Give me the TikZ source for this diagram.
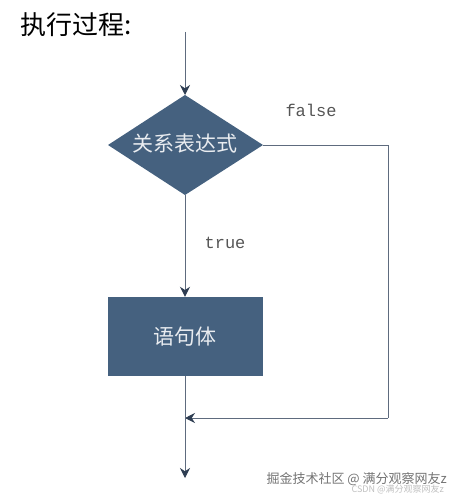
\documentclass[tikz,border=0pt]{standalone}
\usepackage{fontspec}
\setmainfont{Liberation Sans}
\newfontfamily\cjk{Noto Sans CJK SC}
\newfontfamily\cjklight{Noto Sans CJK SC Light}
\newfontfamily\monofnt{Liberation Mono}
\usetikzlibrary{arrows.meta}
\definecolor{boxfill}{HTML}{45617F}
\definecolor{linecol}{HTML}{5E6B7E}
\definecolor{tipcol}{HTML}{2E3D52}
\definecolor{lblcol}{HTML}{555555}
\tikzset{
  x=1pt,y=-1pt,
  flow/.style={draw=linecol,line width=1pt,-{Stealth[length=10pt,width=10pt,fill=tipcol,color=tipcol]}},
  plain/.style={draw=linecol,line width=1pt},
  process/.style={fill=boxfill,minimum width=155pt,minimum height=79pt,inner sep=0pt},
  boxtext/.style={text=white!88!boxfill,font=\cjk\fontsize{21}{24}\selectfont},
  lbl/.style={text=lblcol,font=\monofnt\fontsize{17}{20}\selectfont},
}
\begin{document}
\begin{tikzpicture}
\useasboundingbox (0,0) rectangle (453,500);
\node[anchor=west,font=\cjk\fontsize{26}{30}\selectfont] (title) at (17,25) {执行过程:};
\coordinate (start) at (183,32);
\path[fill=boxfill] (108,145) -- (185,95) -- (263,145) -- (185,195) -- cycle;
\node[inner sep=0pt,minimum width=155pt,minimum height=100pt] (cond) at (185,145) {};
\node[boxtext] at (185,144) {关系表达式};
\node[process,boxtext] (body) at (185,336.5) {语句体};
\coordinate (rt) at (388,145);
\coordinate (rb) at (388,418);
\coordinate (join) at (185,418);
\coordinate (endp) at (185,478);
\coordinate (ctop) at (185,95);
\coordinate (cbot) at (185,195);
\coordinate (cright) at (263,145);
\draw[flow] (start -| ctop) -- (ctop);
\draw[flow] (cbot) -- (body.north);
\draw[plain] (cright) -- (rt) -- (rb);
\draw[flow] (rb) -- (join);
\draw[flow] (body.south) -- (endp);
\node[lbl] (f) at (311,110) {false};
\node[lbl] (t) at (225,243) {true};
\node[anchor=west,text=black!55,font=\cjk\fontsize{13}{15}\selectfont] (wm1) at (263,479) {掘金技术社区 @ 满分观察网友z};
\node[anchor=west,text=black!25,font=\cjk\fontsize{9}{11}\selectfont] (wm2) at (348,489) {CSDN @满分观察网友z};
\end{tikzpicture}
\end{document}
